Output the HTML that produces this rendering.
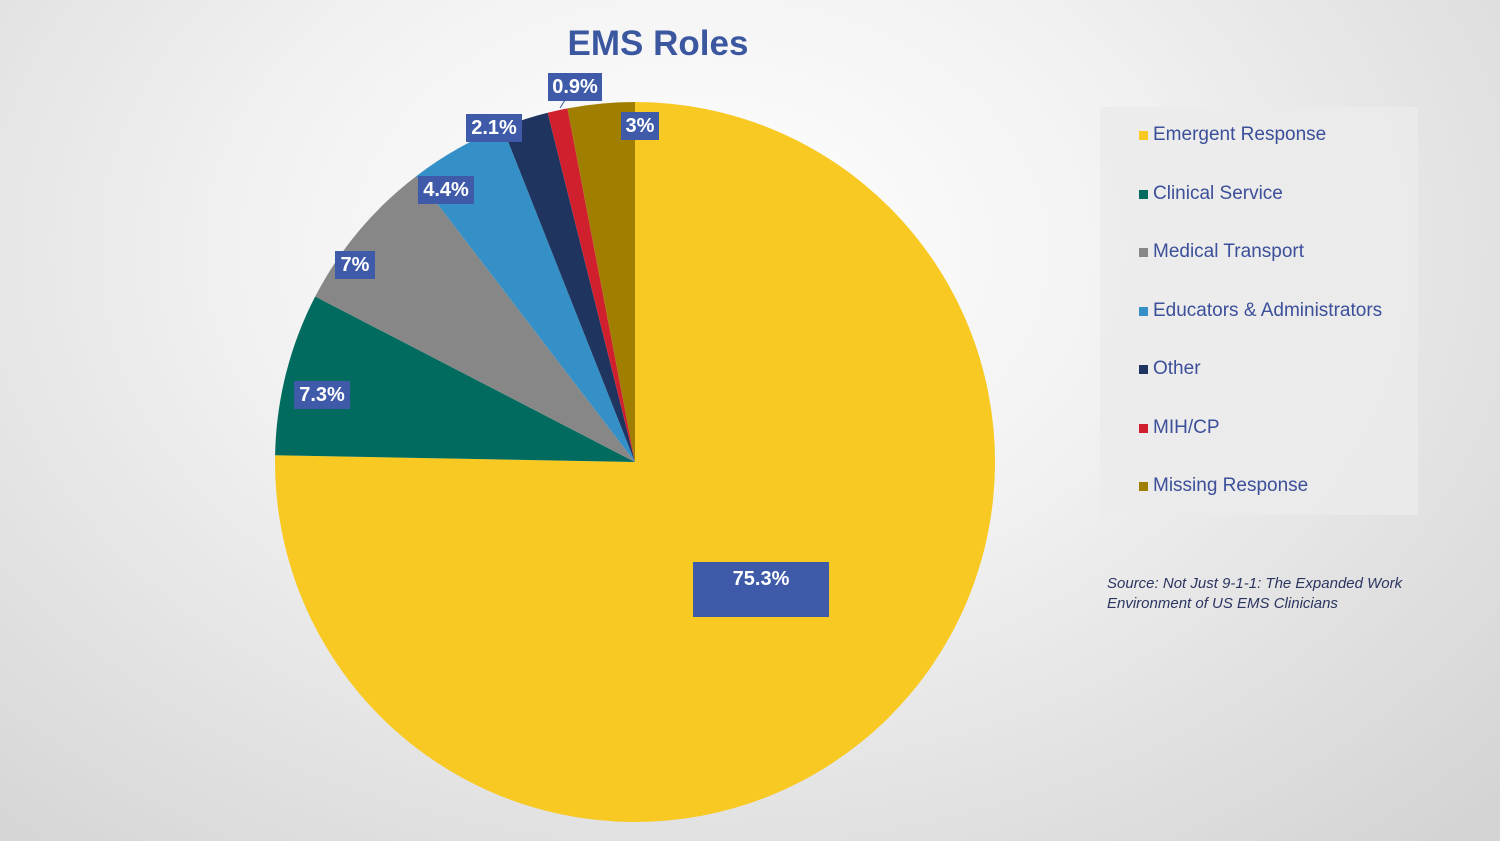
<!DOCTYPE html>
<html><head><meta charset="utf-8"><style>
html,body{margin:0;padding:0}
body{width:1500px;height:841px;overflow:hidden;font-family:"Liberation Sans",Arial,sans-serif;
background:radial-gradient(ellipse 1100px 800px at 700px 250px,#ffffff 0%,#f2f2f2 40%,#d4d4d4 100%);position:relative}
.lb{position:absolute;background:#3f5aa8;color:#fff;font-weight:bold;font-size:20px;text-align:center;line-height:28px}
</style></head><body>
<div style="position:absolute;left:0;width:1316px;top:24px;text-align:center;font-size:35px;font-weight:bold;color:#3b57a0">EMS Roles</div>
<svg width="1500" height="841" style="position:absolute;left:0;top:0">
<path d="M635,462 L635,102 A360,360 0 1 1 275.1,455.2 Z" fill="#f7c922"/>
<path d="M635,462 L275.1,455.2 A360,360 0 0 1 315.2,296.5 Z" fill="#006b5e"/>
<path d="M635,462 L315.2,296.5 A360,360 0 0 1 416.2,176.2 Z" fill="#878787"/>
<path d="M635,462 L416.2,176.2 A360,360 0 0 1 502.5,127.3 Z" fill="#3490c6"/>
<path d="M635,462 L502.5,127.3 A360,360 0 0 1 547.7,112.8 Z" fill="#1f3560"/>
<path d="M635,462 L547.7,112.8 A360,360 0 0 1 567.5,108.4 Z" fill="#d0202e"/>
<path d="M635,462 L567.5,108.4 A360,360 0 0 1 635,102 Z" fill="#a07f00"/>
<line x1="560" y1="108" x2="565" y2="100" stroke="#3f5aa8" stroke-width="1"/>
<rect x="1100" y="107" width="318" height="408" fill="#ebebeb" opacity="0.85"/>
</svg>
<div class="lb" style="left:693px;top:562px;width:136px;height:55px;line-height:34px">75.3%</div>
<div class="lb" style="left:294px;top:381px;width:56px">7.3%</div>
<div class="lb" style="left:335px;top:251px;width:40px">7%</div>
<div class="lb" style="left:418px;top:176px;width:56px">4.4%</div>
<div class="lb" style="left:466px;top:114px;width:56px">2.1%</div>
<div class="lb" style="left:548px;top:73px;width:54px">0.9%</div>
<div class="lb" style="left:621px;top:112px;width:38px">3%</div>
<div style="position:absolute;left:1139px;top:106px;font-size:19px;color:#3b4f9a;line-height:58.5px">
<div><span style="display:inline-block;width:9px;height:9px;background:#f7c922;margin-right:5px"></span>Emergent Response</div>
<div><span style="display:inline-block;width:9px;height:9px;background:#006b5e;margin-right:5px"></span>Clinical Service</div>
<div><span style="display:inline-block;width:9px;height:9px;background:#878787;margin-right:5px"></span>Medical Transport</div>
<div><span style="display:inline-block;width:9px;height:9px;background:#3490c6;margin-right:5px"></span>Educators &amp; Administrators</div>
<div><span style="display:inline-block;width:9px;height:9px;background:#1f3560;margin-right:5px"></span>Other</div>
<div><span style="display:inline-block;width:9px;height:9px;background:#d0202e;margin-right:5px"></span>MIH/CP</div>
<div><span style="display:inline-block;width:9px;height:9px;background:#a07f00;margin-right:5px"></span>Missing Response</div>
</div>
<div style="position:absolute;left:1107px;top:574px;font-size:15px;font-style:italic;color:#2a3560;line-height:20px">Source: Not Just 9-1-1: The Expanded Work<br>Environment of US EMS Clinicians</div>
</body></html>
